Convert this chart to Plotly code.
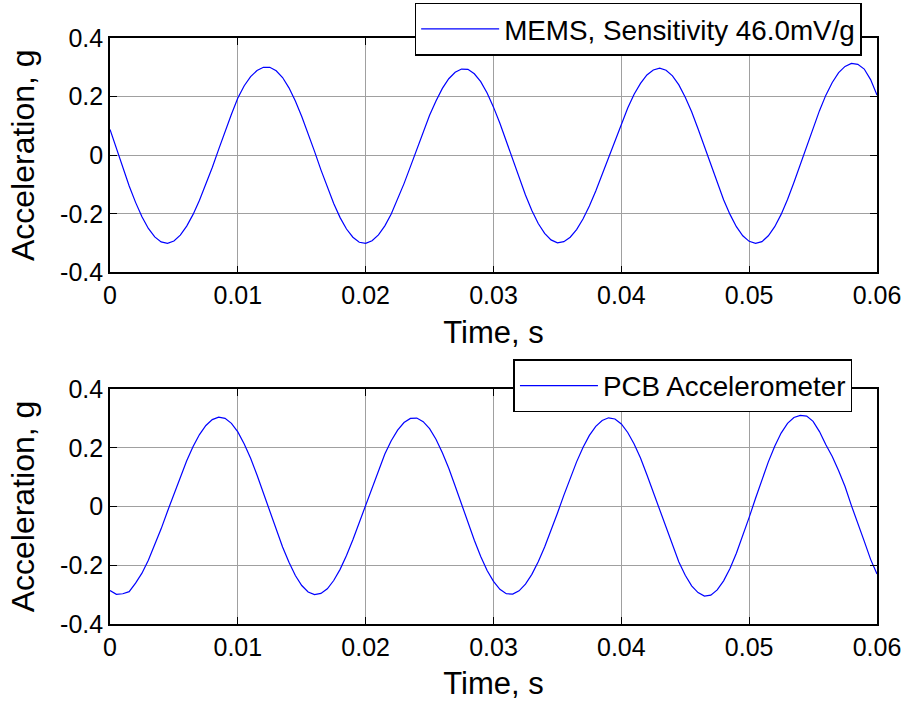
import plotly.graph_objects as go

# sample times (s), 0.5 ms spacing
time_s = [round(0.0005 * i, 4) for i in range(121)]

mems_g = [
    0.088, 0.022, -0.044, -0.105, -0.161, -0.210, -0.250, -0.279, -0.296, -0.301,
    -0.293, -0.273, -0.242, -0.202, -0.154, -0.100, -0.042, 0.020, 0.082, 0.140,
    0.195, 0.237, 0.268, 0.289, 0.300, 0.300, 0.288, 0.265, 0.230, 0.185,
    0.132, 0.074, 0.013, -0.050, -0.109, -0.165, -0.213, -0.252, -0.280, -0.297,
    -0.301, -0.292, -0.272, -0.241, -0.201, -0.152, -0.097, -0.039, 0.021, 0.080,
    0.136, 0.185, 0.228, 0.261, 0.283, 0.294, 0.293, 0.278, 0.251, 0.212,
    0.164, 0.109, 0.048, -0.014, -0.077, -0.136, -0.189, -0.233, -0.267, -0.289,
    -0.299, -0.295, -0.280, -0.254, -0.218, -0.173, -0.122, -0.065, -0.007, 0.052,
    0.109, 0.161, 0.208, 0.245, 0.274, 0.291, 0.297, 0.290, 0.271, 0.240,
    0.198, 0.148, 0.090, 0.029, -0.033, -0.094, -0.152, -0.202, -0.244, -0.275,
    -0.294, -0.301, -0.295, -0.275, -0.244, -0.202, -0.151, -0.093, -0.032, 0.031,
    0.094, 0.152, 0.205, 0.248, 0.282, 0.303, 0.313, 0.310, 0.294, 0.258,
    0.205,
]

pcb_g = [
    -0.286, -0.299, -0.297, -0.290, -0.261, -0.227, -0.183, -0.132, -0.076, -0.016,
    0.043, 0.102, 0.156, 0.204, 0.245, 0.276, 0.296, 0.304, 0.300, 0.283,
    0.254, 0.213, 0.164, 0.107, 0.046, -0.017, -0.079, -0.138, -0.190, -0.235,
    -0.269, -0.291, -0.300, -0.296, -0.280, -0.252, -0.214, -0.167, -0.113, -0.054,
    0.007, 0.068, 0.126, 0.179, 0.224, 0.260, 0.286, 0.300, 0.301, 0.289,
    0.265, 0.229, 0.183, 0.130, 0.070, 0.008, -0.055, -0.115, -0.170, -0.218,
    -0.255, -0.282, -0.297, -0.298, -0.287, -0.264, -0.231, -0.188, -0.138, -0.082,
    -0.023, 0.038, 0.097, 0.152, 0.201, 0.242, 0.273, 0.293, 0.302, 0.298,
    0.281, 0.252, 0.213, 0.165, 0.108, 0.048, -0.015, -0.076, -0.136, -0.189,
    -0.234, -0.270, -0.293, -0.305, -0.302, -0.284, -0.253, -0.211, -0.159, -0.101,
    -0.037, 0.028, 0.092, 0.152, 0.205, 0.250, 0.283, 0.303, 0.310, 0.308,
    0.290, 0.255, 0.210, 0.170, 0.122, 0.068, 0.003, -0.055, -0.118, -0.180,
    -0.230,
]

x_tick_vals = [0, 0.01, 0.02, 0.03, 0.04, 0.05, 0.06]
x_tick_text = ["0", "0.01", "0.02", "0.03", "0.04", "0.05", "0.06"]
y_tick_vals = [-0.4, -0.2, 0, 0.2, 0.4]
y_tick_text = ["-0.4", "-0.2", "0", "0.2", "0.4"]

series_names = ["MEMS, Sensitivity 46.0mV/g", "PCB Accelerometer"]
x_title = "Time, s"
y_title = "Acceleration, g"

FONT = "Liberation Sans, Arial, sans-serif"
BLUE = "#0000ff"

fig = go.Figure()
fig.add_trace(go.Scatter(x=time_s, y=mems_g, mode="lines", name=series_names[0],
                         line=dict(color=BLUE, width=1.2), xaxis="x", yaxis="y",
                         legend="legend"))
fig.add_trace(go.Scatter(x=time_s, y=pcb_g, mode="lines", name=series_names[1],
                         line=dict(color=BLUE, width=1.2), xaxis="x2", yaxis="y2",
                         legend="legend2"))

def xax(anchor):
    return dict(
        anchor=anchor, domain=[0, 1], range=[0, 0.06],
        tickmode="array", tickvals=x_tick_vals, ticktext=x_tick_text,
        ticks="inside", ticklen=7, tickwidth=1, tickcolor="black",
        showline=True, linecolor="black", linewidth=1.6, mirror="allticks",
        showgrid=True, gridcolor="#a0a0a0", gridwidth=1, zeroline=False,
        tickfont=dict(family=FONT, size=25, color="black"),
        title=dict(text=x_title, font=dict(family=FONT, size=31, color="black"),
                   standoff=13),
        automargin=False, fixedrange=True,
    )

def yax(anchor, domain):
    return dict(
        anchor=anchor, domain=domain, range=[-0.4, 0.4],
        tickmode="array", tickvals=y_tick_vals, ticktext=y_tick_text,
        ticks="inside", ticklen=7, tickwidth=1, tickcolor="black",
        showline=True, linecolor="black", linewidth=1.6, mirror="allticks",
        showgrid=True, gridcolor="#a0a0a0", gridwidth=1, zeroline=False,
        tickfont=dict(family=FONT, size=25, color="black"),
        title=dict(text=y_title, font=dict(family=FONT, size=32, color="black"),
                   standoff=16),
        automargin=False, fixedrange=True,
    )

legend_common = dict(
    xanchor="right", yanchor="top", bgcolor="white", bordercolor="black",
    borderwidth=1.5, font=dict(family=FONT, size=27.8, color="black"),
    itemwidth=78,
)

fig.update_layout(
    width=912, height=704,
    margin=dict(l=110, r=35, t=38, b=80, autoexpand=False),
    paper_bgcolor="white", plot_bgcolor="white",
    xaxis=xax("y"), yaxis=yax("x", [0.6, 1.0]),
    xaxis2=xax("y2"), yaxis2=yax("x2", [0.0, 0.401]),
    legend=dict(x=0.980, y=1.0602, **legend_common),
    legend2=dict(x=0.968, y=0.4514, **legend_common),
    showlegend=True,
)

fig.write_html(
    "out.html",
    config={"displayModeBar": False},
    post_script="document.body.style.margin='0';document.body.style.overflow='hidden';",
)
